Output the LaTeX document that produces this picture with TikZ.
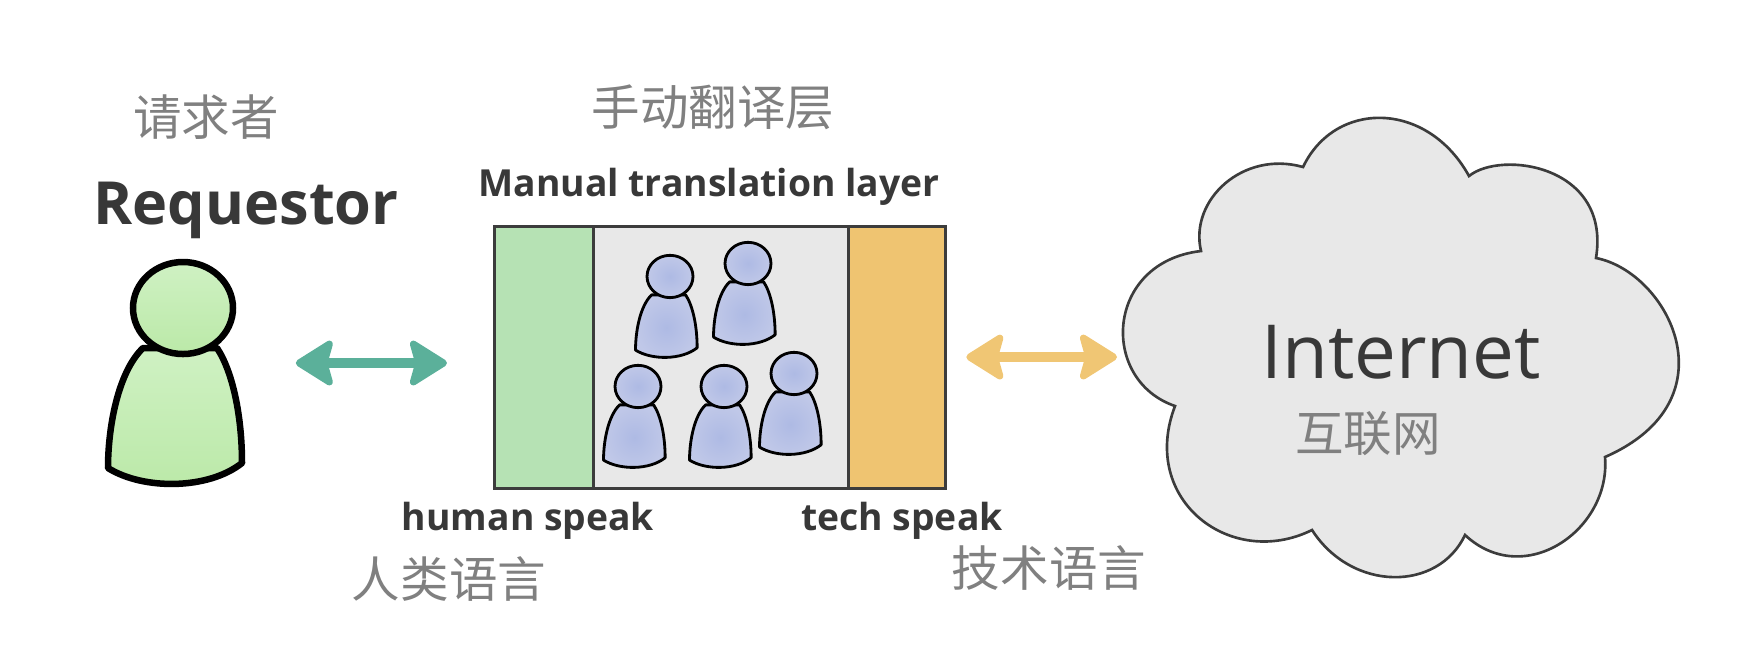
\documentclass[tikz,border=0pt]{standalone}
\usepackage{fontspec}
\setmainfont{Open Sans}
\newfontfamily\cjk{Noto Sans CJK SC}
\usetikzlibrary{arrows.meta}
\definecolor{inkc}{RGB}{56,56,56}
\definecolor{linec}{RGB}{60,60,60}
\definecolor{cngray}{RGB}{128,128,128}
\definecolor{humanc}{RGB}{182,226,180}
\definecolor{techc}{RGB}{239,196,113}
\definecolor{paperc}{RGB}{232,232,232}
\definecolor{tealc}{RGB}{91,176,154}
\definecolor{goldc}{RGB}{240,198,116}
\definecolor{reqrhi}{RGB}{207,241,195}
\definecolor{reqrlo}{RGB}{187,233,168}
\definecolor{crowdhi}{RGB}{192,200,232}
\definecolor{crowdlo}{RGB}{174,186,228}
\tikzset{
  panel/.style={draw=linec, line width=0.85pt, anchor=north west, inner sep=0pt, outer sep=0pt, minimum height=2.62cm},
  cnlabel/.style={text=cngray, inner sep=0pt, font=\cjk\fontsize{13.8}{16}\selectfont},
  enlabel/.style={text=inkc, inner sep=0pt, font=\bfseries\fontsize{10.6}{13}\selectfont},
  biarrow/.style={line width=2.8pt, {Stealth[round,length=0.42cm,width=0.52cm,inset=0.07cm,line width=2pt]}-{Stealth[round,length=0.42cm,width=0.52cm,inset=0.07cm,line width=2pt]}},
  reqrskin/.style={shading angle=25, top color=reqrhi, bottom color=reqrlo},
  crowdskin/.style={inner color=crowdlo, outer color=crowdhi}
}
% figure: head centre x, y, scale, stroke, skin
\newcommand{\person}[5]{
  \begin{scope}[shift={(#1,#2)}, scale=#3]
    \draw[black, line width=#4, line join=round, #5] (-40,41) .. controls (-65,65) and (-75,120) .. (-75,161)
      .. controls (-40,183) and (25,183) .. (59,156)
      .. controls (59,110) and (50,65) .. (34,41) -- cycle;
    \draw[black, line width=#4, #5] (0,1) ellipse [x radius=50, y radius=46];
  \end{scope}
}
\begin{document}
\begin{tikzpicture}[x=0.01cm, y=-0.01cm, line cap=round]
  \useasboundingbox (0,0) rectangle (1746,656);

  % requestor on the left
  \node[inner sep=0pt, minimum width=1.34cm, minimum height=2.05cm] (reqr) at (175,363) {};
  \person{183}{307}{1}{1.85pt}{reqrskin}
  \node[cnlabel] (reqrcn) at (206,117) {请求者};
  \node[text=inkc, inner sep=0pt, font=\bfseries\fontsize{16.9}{20}\selectfont] (reqrname) at (246,210) {Requestor};

  % translation layer: three panels side by side
  \node[panel, fill=humanc, minimum width=0.99cm] (human) at (494,226) {};
  \node[panel, fill=paperc, minimum width=2.55cm] (crowd) at (human.north east) {};
  \node[panel, fill=techc, minimum width=0.97cm] (tech) at (crowd.north east) {};

  % the people working inside
  \foreach \hx/\hy in {670/276, 748/263, 638/386, 724/386, 794/373}{
    \person{\hx}{\hy}{0.46}{0.8pt}{crowdskin}
  }

  \node[cnlabel] (layercn) at (713,107) {手动翻译层};
  \node[enlabel] (layername) at (709,187) {Manual translation layer};
  \node[enlabel] (humanname) at (528,521) {human speak};
  \node[enlabel] (techname) at (902,521) {tech speak};
  \node[cnlabel] (humancn) at (449,579) {人类语言};
  \node[cnlabel] (techcn) at (1049,568) {技术语言};

  % internet cloud
  \draw[draw=linec, fill=paperc, line width=0.75pt, line join=miter] (1201,251)
    .. controls (1189,200) and (1243,150) .. (1303,167)
    .. controls (1335,100) and (1427,100) .. (1469,176)
    .. controls (1501,150) and (1611,165) .. (1596,258)
    .. controls (1668,272) and (1735,400) .. (1605,457)
    .. controls (1611,530) and (1524,590) .. (1465,535)
    .. controls (1438,592) and (1352,592) .. (1312,530)
    .. controls (1231,570) and (1139,500) .. (1175,406)
    .. controls (1099,380) and (1105,262) .. (1201,251) -- cycle;
  \coordinate (cloudw) at (1117,357);
  \node[text=inkc, inner sep=0pt, font=\fontsize{21.2}{25}\selectfont] (inetname) at (1401,352) {Internet};
  \node[cnlabel] (inetcn) at (1368,434) {互联网};

  % double arrows
  \draw[biarrow, tealc, shorten <=0.53cm, shorten >=0.47cm] (reqr.east) -- (reqr.east -| human.west);
  \draw[biarrow, goldc, shorten <=0.21cm] (tech.east) -- (cloudw);
\end{tikzpicture}
\end{document}
